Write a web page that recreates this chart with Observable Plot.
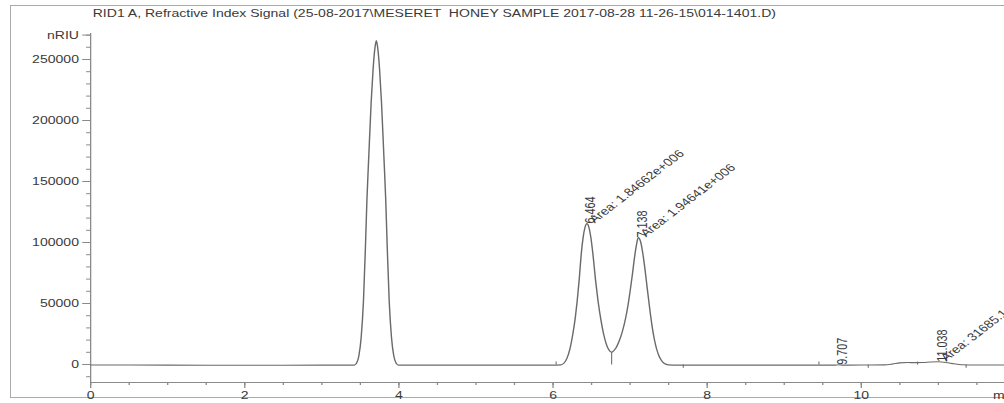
<!DOCTYPE html>
<html>
<head>
<meta charset="utf-8">
<script src="https://cdn.jsdelivr.net/npm/d3@7"></script>
<script src="https://cdn.jsdelivr.net/npm/@observablehq/plot@0.6"></script>
<style>
  html, body { margin: 0; padding: 0; background: #fff; overflow: hidden; width: 1004px; height: 403px; }
  #frame { position: absolute; left: 10px; top: 5px; width: 1100px; height: 393px; border: 1px solid #aaa; box-sizing: border-box; }
  #chart { position: absolute; left: 0; top: 0; }
  svg text { white-space: pre; }
</style>
</head>
<body>
<div id="frame"></div>
<div id="chart"></div>
<script>
// ---- data ----
const titleText = "RID1 A, Refractive Index Signal (25-08-2017\\MESERET  HONEY SAMPLE 2017-08-28 11-26-15\\014-1401.D)";
const unitLabel = "nRIU";
const xUnitLabel = "min";

const traceTime = [0, 1.0, 2.0, 3.0, 3.35, 3.42, 3.45, 3.48, 3.51, 3.54, 3.565, 3.585, 3.61, 3.64, 3.665, 3.69, 3.707, 3.724, 3.749, 3.774, 3.804, 3.829, 3.849, 3.874, 3.904, 3.934, 3.964, 3.994, 4.05,
  5.0, 6.0, 6.10, 6.14, 6.18, 6.22, 6.258, 6.29, 6.314, 6.34, 6.365, 6.39, 6.415, 6.44, 6.465, 6.49, 6.52, 6.55, 6.583, 6.62, 6.656, 6.69, 6.72, 6.76, 6.79, 6.82, 6.85, 6.88, 6.91, 6.94, 6.97, 7.00, 7.03, 7.06, 7.085, 7.105,
  7.135, 7.165, 7.195, 7.225, 7.255, 7.285, 7.315, 7.345, 7.375, 7.405, 7.44, 7.50, 7.60, 8.5, 9.4, 9.65, 9.707, 9.76, 10.0, 10.3, 10.4, 10.5, 10.6, 10.7, 10.8, 10.9, 11.0, 11.1, 11.2, 11.3, 11.5, 11.86];
const traceSignal = [-400, -500, -600, -500, -500, -500, 1000, 7000, 22000, 52000, 95000, 135000, 172000, 215000, 242000, 260000, 265500, 260000, 242000, 215000, 172000, 135000, 95000, 52000, 22000, 7000, 1000, -500, -500,
  -500, -500, -300, 1000, 5000, 13000, 25400, 39000, 52500, 70000, 90000, 104000, 112500, 115500, 112500, 104500, 89000, 70000, 52500, 37000, 25000, 17000, 12500, 10000, 11500, 14000, 18000, 23000, 29500, 37500, 47500, 60000, 74000, 89000, 99000, 104000,
  101000, 91000, 77000, 61000, 45500, 31500, 20500, 12500, 7000, 3500, 1000, -300, -500, -500, -500, -500, -200, -500, -400, -300, 300, 1300, 1600, 1500, 1600, 2000, 2200, 1700, 600, -200, -400, -400];

// retention-time labels
const rtTime = [6.44, 7.105, 9.70, 11.0];
const rtSignal = [115500, 104000, -300, 2200];
const rtText = ["6.464", "7.138", "9.707", "11.038"];
// area labels
const areaTime = [6.44, 7.105, 11.0];
const areaSignal = [115500, 104000, 2200];
const areaText = ["Area: 1.84662e+006", "Area: 1.94641e+006", "Area: 31685.1"];
// integration event markers (baseline ticks and valley drop line)
const markTime = [6.04, 6.76, 7.69, 9.45, 10.09, 10.73, 11.36];
const markLow = [-500, -500, -3000, -500, -3000, -500, -3000];
const markHigh = [2000, 10000, -500, 2000, -500, 2000, -500];

// axes
const yMin = -14750, yMax = 271300;
const xMax = 11.86;
const yMajorTicks = [0, 50000, 100000, 150000, 200000, 250000, 270000];
const yMinorTicks = d3.range(-10000, 270001, 10000);
const xMajorTicks = [0, 2, 4, 6, 8, 10];
const xMinorTicks = d3.range(0, 12, 0.5);

// ---- build ----
const trace = traceTime.map((t, i) => ({t, s: traceSignal[i]}));
const rt = rtTime.map((t, i) => ({t, s: rtSignal[i], text: rtText[i]}));
const area = areaTime.map((t, i) => ({t, s: areaSignal[i], text: areaText[i]}));
const marks = markTime.map((t, i) => ({t, lo: markLow[i], hi: markHigh[i]}));

const axisColor = "#8a8a8a";
const textColor = "#3a3a3a";
const W0 = 772, H = 403; // drawn narrow, then stretched to 1004 px wide like the scanned print

const chart = Plot.plot({
  width: W0,
  height: H,
  marginLeft: 69.2,
  marginRight: 0,
  marginTop: 33,
  marginBottom: 21,
  x: {domain: [0, xMax], label: null},
  y: {domain: [yMin, yMax], label: null},
  style: {fontFamily: "'Liberation Sans', Arial, sans-serif", fontSize: "10.8px", color: textColor, background: "transparent"},
  marks: [
    Plot.ruleX([0], {stroke: axisColor}),
    Plot.ruleY([yMin], {stroke: axisColor}),
    Plot.axisY({ticks: yMinorTicks, tickSize: 3, fill: "none", stroke: axisColor, label: null}),
    Plot.axisY({ticks: yMajorTicks, tickSize: 6, tickPadding: 3, stroke: axisColor, fill: textColor, label: null,
      tickFormat: d => d === 270000 ? unitLabel : String(d)}),
    Plot.axisX({ticks: xMinorTicks, tickSize: 3, fill: "none", stroke: axisColor, label: null}),
    Plot.axisX({ticks: xMajorTicks, tickSize: 6, tickPadding: 3, stroke: axisColor, fill: textColor, label: null, tickFormat: d => String(d)}),
    Plot.text([xUnitLabel], {x: 11.71, frameAnchor: "bottom", dy: 9, lineAnchor: "top", textAnchor: "start", fill: textColor}),
    Plot.text([titleText], {frameAnchor: "top-left", dx: 1.6, dy: -20, lineAnchor: "middle", textAnchor: "start", fill: textColor}),
    Plot.ruleX(marks, {x: "t", y1: "lo", y2: "hi", stroke: "#777", strokeWidth: 0.9}),
    Plot.line(trace, {x: "t", y: "s", curve: "monotone-x", stroke: "#6a6a6a", strokeWidth: 1.1}),
    Plot.text(rt, {x: "t", y: "s", text: "text", rotate: -90, textAnchor: "start", lineAnchor: "middle", dx: 3, fill: textColor}),
    Plot.text(area, {x: "t", y: "s", text: "text", rotate: -45, textAnchor: "start", lineAnchor: "bottom", dx: 6, dy: 0, fill: textColor})
  ]
});

chart.setAttribute("width", 1004);
chart.setAttribute("height", H);
chart.setAttribute("preserveAspectRatio", "none");
chart.style.width = "1004px";
chart.style.height = H + "px";
chart.style.maxWidth = "none";
chart.style.overflow = "hidden";
document.getElementById("chart").appendChild(chart);
</script>
</body>
</html>
